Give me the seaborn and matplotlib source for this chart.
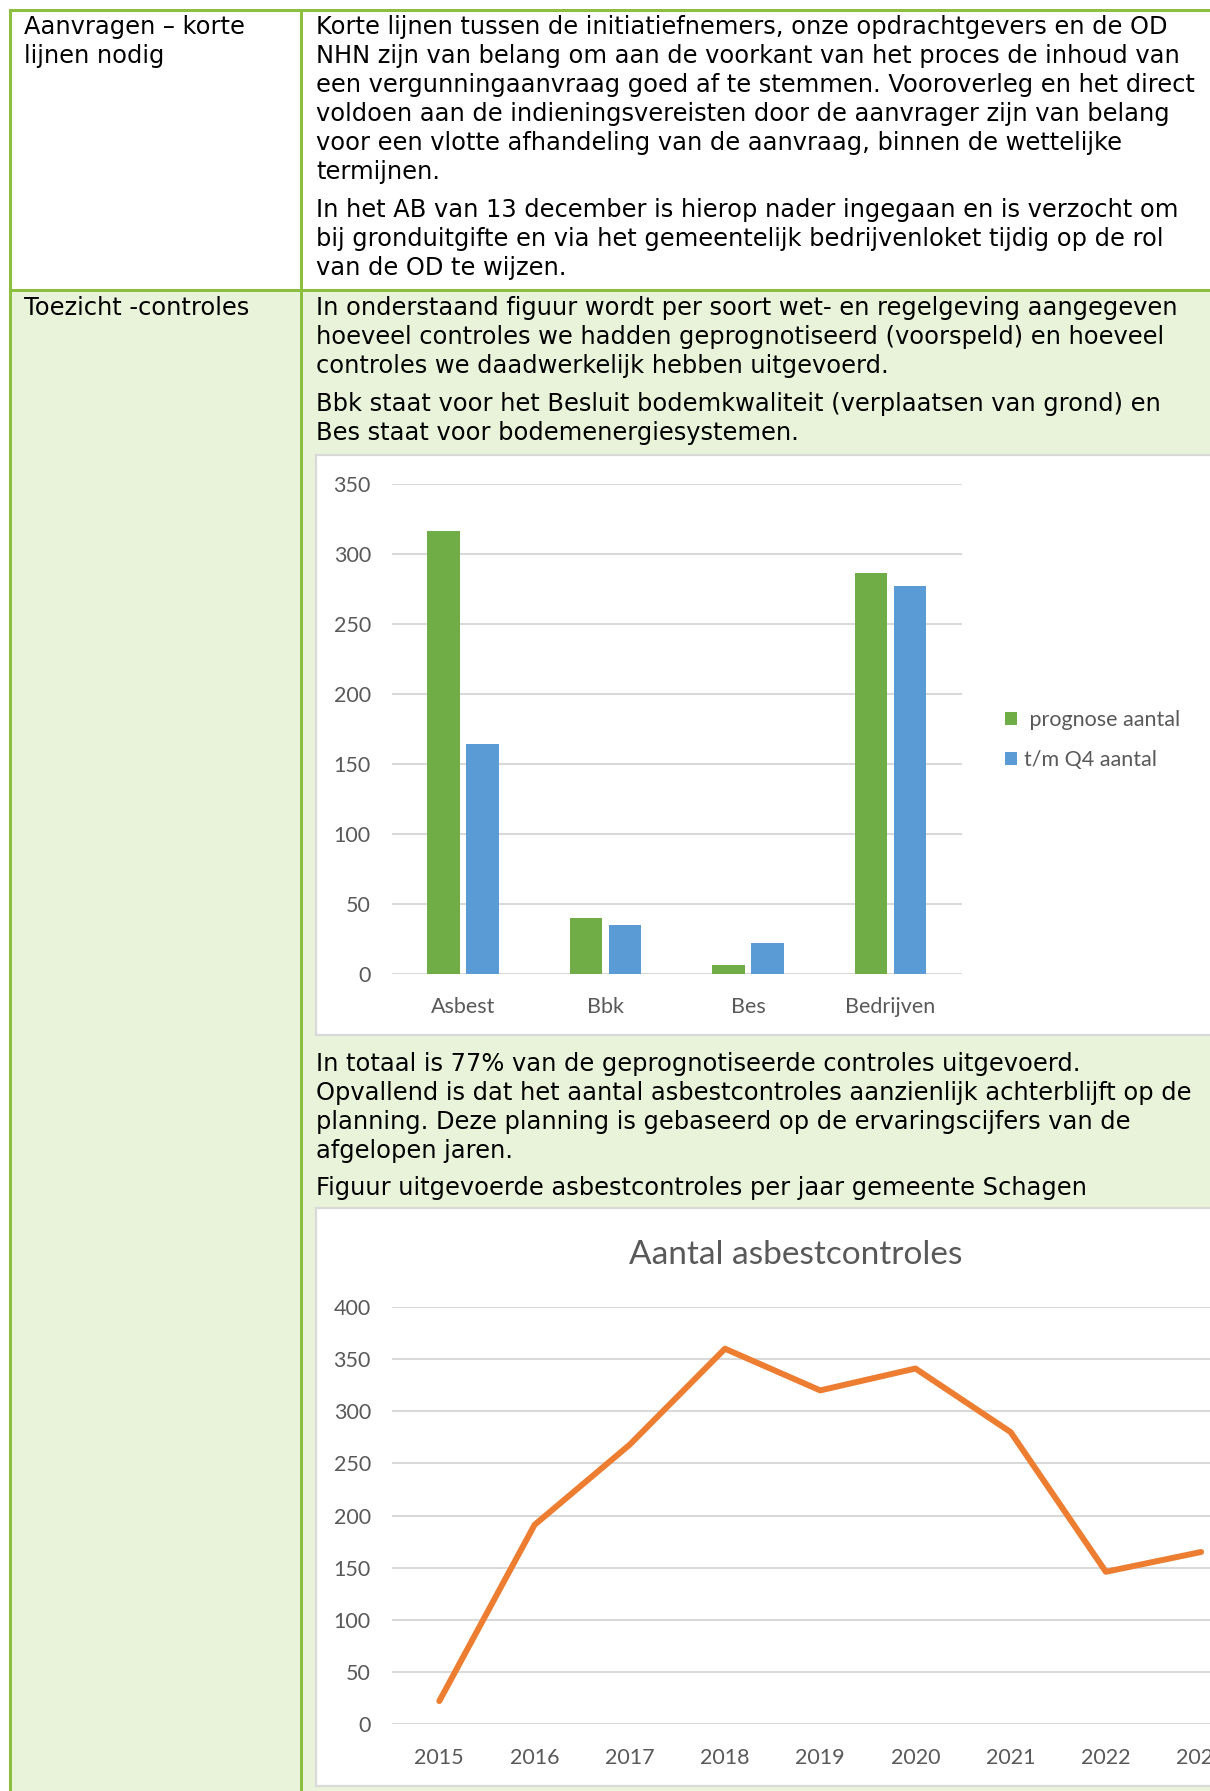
import numpy as np
import pandas as pd
import matplotlib
matplotlib.use('Agg')
import matplotlib.pyplot as plt
from matplotlib.patches import Rectangle
import seaborn as sns

# data
soorten = ['Asbest', 'Bbk', 'Bes', 'Bedrijven']
prognose_aantal = [316, 40, 6, 286]
tm_q4_aantal = [164, 35, 22, 277]
reeksen = [' prognose aantal', 't/m Q4 aantal']

jaren = [2015, 2016, 2017, 2018, 2019, 2020, 2021, 2022, 2023]
asbestcontroles = [22, 191, 268, 360, 320, 341, 280, 146, 165]

sns.set_style('white')
plt.rcParams['font.family'] = ['DejaVu Sans']

W, H = 1210, 1791
GREEN_LINE = '#8CBF3F'
GREEN_BG = '#E9F3DA'
GRID = '#D9D9D9'
TXT = '#595959'
CHART_FONT = ['Lato', 'DejaVu Sans']
BODY_SIZE = 17.4

fig = plt.figure(figsize=(W / 100, H / 100), dpi=100)
fig.patch.set_facecolor('white')


def fx(x):
    return x / W


def fy(y):
    return 1 - y / H


def rect(x0, y0, x1, y1, z=-10, **kw):
    fig.add_artist(Rectangle((fx(x0), fy(y1)), (x1 - x0) / W, (y1 - y0) / H,
                             transform=fig.transFigure, zorder=z, **kw))


# table backgrounds and borders
rect(9, 290, 1215, 1800, facecolor=GREEN_BG, edgecolor='none')
rect(9, 9, 1215, 12, z=-5, facecolor=GREEN_LINE, edgecolor='none')
rect(9, 289, 1215, 292, z=-5, facecolor=GREEN_LINE, edgecolor='none')
rect(9, 9, 12, 1800, z=-5, facecolor=GREEN_LINE, edgecolor='none')
rect(300, 9, 303, 1800, z=-5, facecolor=GREEN_LINE, edgecolor='none')

# chart boxes
rect(316, 455, 1230, 1035, z=-4, facecolor='white', edgecolor=GRID, linewidth=1.6)
rect(316, 1208, 1230, 1786, z=-4, facecolor='white', edgecolor=GRID, linewidth=1.6)


def line(x, y, s):
    fig.text(fx(x), fy(y), s, fontsize=BODY_SIZE, va='baseline', ha='left', color='black')


def para(x, y0, lines):
    for i, s in enumerate(lines):
        line(x, y0 + 29 * i, s)


para(24, 34, ['Aanvragen – korte', 'lijnen nodig'])
para(316, 34, [
    'Korte lijnen tussen de initiatiefnemers, onze opdrachtgevers en de OD',
    'NHN zijn van belang om aan de voorkant van het proces de inhoud van',
    'een vergunningaanvraag goed af te stemmen. Vooroverleg en het direct',
    'voldoen aan de indieningsvereisten door de aanvrager zijn van belang',
    'voor een vlotte afhandeling van de aanvraag, binnen de wettelijke',
    'termijnen.'])
para(316, 217, [
    'In het AB van 13 december is hierop nader ingegaan en is verzocht om',
    'bij gronduitgifte en via het gemeentelijk bedrijvenloket tijdig op de rol',
    'van de OD te wijzen.'])
para(24, 315, ['Toezicht -controles'])
para(316, 315, [
    'In onderstaand figuur wordt per soort wet- en regelgeving aangegeven',
    'hoeveel controles we hadden geprognotiseerd (voorspeld) en hoeveel',
    'controles we daadwerkelijk hebben uitgevoerd.'])
para(316, 411, [
    'Bbk staat voor het Besluit bodemkwaliteit (verplaatsen van grond) en',
    'Bes staat voor bodemenergiesystemen.'])
para(316, 1071, [
    'In totaal is 77% van de geprognotiseerde controles uitgevoerd.',
    'Opvallend is dat het aantal asbestcontroles aanzienlijk achterblijft op de',
    'planning. Deze planning is gebaseerd op de ervaringscijfers van de',
    'afgelopen jaren.'])
para(316, 1195, ['Figuur uitgevoerde asbestcontroles per jaar gemeente Schagen'])


def style_axes(ax):
    ax.set_facecolor('none')
    for sp in ax.spines.values():
        sp.set_visible(False)
    ax.grid(axis='y', color=GRID, linewidth=1.45)
    ax.grid(axis='x', visible=False)
    ax.set_axisbelow(True)
    ax.tick_params(length=0, labelsize=15.5, labelcolor=TXT)
    ax.tick_params(axis='y', pad=15)
    ax.tick_params(axis='x', pad=17)
    for lab in ax.get_xticklabels() + ax.get_yticklabels():
        lab.set_family(CHART_FONT)
    ax.set_xlabel('')
    ax.set_ylabel('')


# bar chart
df = pd.DataFrame({
    'soort': soorten * 2,
    'aantal': prognose_aantal + tm_q4_aantal,
    'reeks': [reeksen[0]] * 4 + [reeksen[1]] * 4,
})
ax1 = fig.add_axes([fx(391.7), fy(973.5), 570 / W, (973.5 - 483.7) / H])
sns.barplot(data=df, x='soort', y='aantal', hue='reeks',
            palette=['#70AD47', '#5B9BD5'], width=0.552, gap=0.174,
            saturation=1, errorbar=None, linewidth=0, ax=ax1)
handles, labels = ax1.get_legend_handles_labels()
ax1.get_legend().remove()
ax1.set_ylim(0, 350)
ax1.set_xlim(-0.5, 3.5)
ax1.set_yticks(np.arange(0, 351, 50))
style_axes(ax1)
fig.legend(handles, labels, loc='center left', bbox_to_anchor=(fx(1005), fy(740)),
           bbox_transform=fig.transFigure, frameon=False, borderpad=0,
           borderaxespad=0, handlelength=0.55, handleheight=0.55,
           handletextpad=0.33, labelspacing=0.95,
           prop={'family': CHART_FONT, 'size': 15.5}, labelcolor=TXT)

# line chart
ax2 = fig.add_axes([fx(391.7), fy(1724), 857 / W, 417 / H])
sns.lineplot(x=jaren, y=asbestcontroles, color='#ED7D31', linewidth=4.3, ax=ax2)
for ln in ax2.lines:
    ln.set_solid_joinstyle('round')
    ln.set_solid_capstyle('round')
ax2.set_xlim(2014.5, 2023.5)
ax2.set_ylim(0, 400)
ax2.set_xticks(jaren)
ax2.set_xticklabels([str(j) for j in jaren])
ax2.set_yticks(np.arange(0, 401, 50))
style_axes(ax2)
fig.text(fx(796), fy(1264), 'Aantal asbestcontroles', fontsize=24, color=TXT,
         ha='center', va='baseline', family=CHART_FONT)

fig.savefig('out.png', dpi=100)
